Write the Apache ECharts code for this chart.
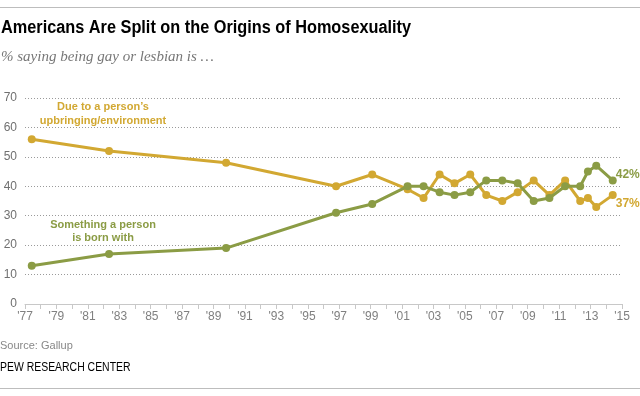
<!DOCTYPE html>
<html><head><meta charset="utf-8">
<script src="https://cdn.jsdelivr.net/npm/echarts@6/dist/echarts.min.js"></script>
<style>html,body{margin:0;padding:0;background:#fff}#c{width:640px;height:396px}</style>
</head><body><div id="c"></div>
<script>
// Survey dates (decimal years) as plotted
const surveyDates = [1977.43, 1982.35, 1989.8, 1996.8, 1999.1, 2001.35, 2002.37, 2003.39, 2004.34, 2005.34,
  2006.36, 2007.38, 2008.36, 2009.38, 2010.38, 2011.38, 2012.34, 2012.83, 2013.36, 2014.41];
// % saying being gay or lesbian is due to upbringing/environment
const upbringing = [56, 52, 48, 40, 44, 39, 36, 44, 41, 44, 37, 35, 38, 42, 37, 42, 35, 36, 33, 37];
// % saying being gay or lesbian is something a person is born with
const bornWith = [13, 17, 19, 31, 34, 40, 40, 38, 37, 38, 42, 42, 41, 35, 36, 40, 40, 45, 47, 42];
const xMin = 1977, xMax = 2015;
const yMin = 0, yMax = 70, yStep = 10;

const GOLD = '#d2a832';
const GREEN = '#8b9c45';
const SANS = "'Liberation Sans', Arial, sans-serif";

function build(values, color, labelOffset) {
  return surveyDates.map((d, i) => {
    const item = { value: [d, values[i]] };
    if (i === surveyDates.length - 1) {
      item.label = {
        show: true, position: 'right', distance: -1, offset: labelOffset,
        formatter: p => p.value[1] + '%',
        color: color, fontFamily: SANS, fontWeight: 'bold', fontSize: 12
      };
    }
    return item;
  });
}

const chart = echarts.init(document.getElementById('c'), null, { renderer: 'canvas' });
chart.setOption({
  animation: false,
  backgroundColor: '#fff',
  grid: { left: 25, right: 18, top: 98, bottom: 92, containLabel: false },
  xAxis: {
    type: 'value', min: xMin, max: xMax, interval: 1,
    axisLine: { show: true, lineStyle: { color: '#c8c8c8', width: 1 } },
    axisTick: { show: true, length: 5, lineStyle: { color: '#c8c8c8' } },
    splitLine: { show: false },
    axisLabel: {
      margin: 7, color: '#808080', fontFamily: SANS, fontSize: 12,
      formatter: v => (Math.round(v) % 2 === 1) ? "'" + String(Math.round(v)).slice(2) : ''
    }
  },
  yAxis: {
    type: 'value', min: yMin, max: yMax, interval: yStep,
    axisLine: { show: false }, axisTick: { show: false },
    splitLine: { show: true, lineStyle: { color: '#9a9a9a', type: [1, 2], width: 1 } },
    axisLabel: { margin: 8, color: '#707070', fontFamily: SANS, fontSize: 12 }
  },
  series: [
    {
      name: 'Due to a person\u2019s upbringing/environment', type: 'line',
      data: build(upbringing, GOLD, [0, 9]),
      lineStyle: { color: GOLD, width: 3 }, itemStyle: { color: GOLD },
      symbol: 'circle', symbolSize: 8, z: 3
    },
    {
      name: 'Something a person is born with', type: 'line',
      data: build(bornWith, GREEN, [0, -6]),
      lineStyle: { color: GREEN, width: 3 }, itemStyle: { color: GREEN },
      symbol: 'circle', symbolSize: 8, z: 4
    }
  ],
  graphic: [
    { type: 'line', shape: { x1: 0, y1: 7.5, x2: 640, y2: 7.5 }, style: { stroke: '#bdbdbd', lineWidth: 1 } },
    { type: 'text', x: 1, y: 28, scaleX: 0.905, style: { text: 'Americans Are Split on the Origins of Homosexuality',
      font: "bold 18px " + SANS, fill: '#000', align: 'left', verticalAlign: 'middle' } },
    { type: 'text', x: 1, y: 57, style: { text: '% saying being gay or lesbian is \u2026',
      font: "italic 15px 'Liberation Serif', Georgia, serif", fill: '#777', align: 'left', verticalAlign: 'middle' } },
    { type: 'text', x: 103, y: 107, style: { text: 'Due to a person\u2019s',
      font: "bold 11px " + SANS, fill: GOLD, align: 'center', verticalAlign: 'middle' } },
    { type: 'text', x: 103, y: 121, style: { text: 'upbringing/environment',
      font: "bold 11px " + SANS, fill: GOLD, align: 'center', verticalAlign: 'middle' } },
    { type: 'text', x: 103, y: 225, style: { text: 'Something a person',
      font: "bold 11px " + SANS, fill: GREEN, align: 'center', verticalAlign: 'middle' } },
    { type: 'text', x: 103, y: 238, style: { text: 'is born with',
      font: "bold 11px " + SANS, fill: GREEN, align: 'center', verticalAlign: 'middle' } },
    { type: 'text', x: 0, y: 346, style: { text: 'Source: Gallup',
      font: "11px " + SANS, fill: '#888', align: 'left', verticalAlign: 'middle' } },
    { type: 'text', x: 0, y: 368, scaleX: 0.87, style: { text: 'PEW RESEARCH CENTER',
      font: "12px " + SANS, fill: '#000', align: 'left', verticalAlign: 'middle' } },
    { type: 'line', shape: { x1: 0, y1: 388.5, x2: 640, y2: 388.5 }, style: { stroke: '#bdbdbd', lineWidth: 1 } }
  ]
});
</script>
</body></html>
